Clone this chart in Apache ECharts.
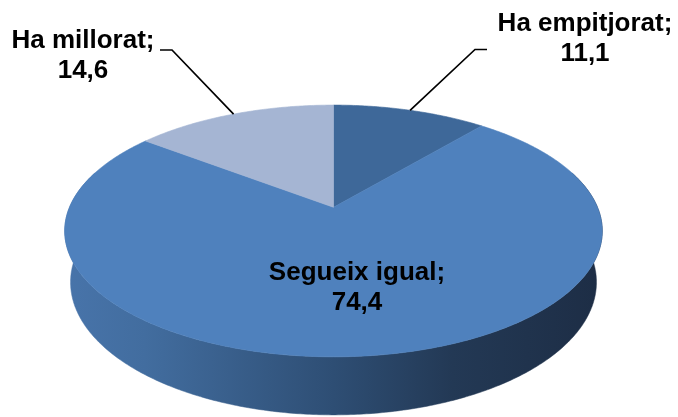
<!DOCTYPE html>
<html>
<head>
<meta charset="utf-8">
<script src="https://cdn.jsdelivr.net/npm/echarts@6/dist/echarts.min.js"></script>
<style>
  html, body { margin: 0; padding: 0; background: #fff; }
  #pie3d { width: 678px; height: 417px; }
</style>
</head>
<body>
<div id="pie3d"></div>
<script>
// data, clockwise from 12 o'clock
const categories = ['Ha empitjorat', 'Segueix igual', 'Ha millorat'];
const values = [11.1, 74.4, 14.6];

const sliceColors = ['#3e6899', '#4f81bd', '#a5b5d3'];

// label placement (centre of text block + leader line elbow/end)
const labelLayout = [
  { x: 585, y: 39, leader: [[475, 49.5], [487, 49.5]] },
  { x: 357, y: 288 },
  { x: 83, y: 56, leader: [[172, 50], [160, 50]] }
];

// fake 3d view of the disc: tilt + a bit of perspective
const view = {
  cx: 333.5, cy: 207.3, r: 264,
  sinT: 0.46, cosT: 0.888, persp: 0.2117,
  depth: 0.22
};

const total = values.reduce((s, v) => s + v, 0);
const starts = [];
values.reduce((acc, v) => { starts.push(acc); return acc + v; }, 0);

// theta: clockwise from the back of the disc, rad. y: height (0 = top face)
function project(theta, rad, y) {
  const X = rad * Math.sin(theta), Z = rad * Math.cos(theta);
  const u = Z * view.sinT + y * view.cosT;
  const w = Z * view.cosT - y * view.sinT;
  const s = 1 / (1 + view.persp * w);
  return [view.cx + view.r * X * s, view.cy - view.r * u * s];
}

function arc(a0, a1, y) {
  const n = Math.max(2, Math.ceil(Math.abs(a1 - a0) / 0.01));
  const pts = [];
  for (let k = 0; k <= n; k++) {
    pts.push(project(a0 + (a1 - a0) * k / n, 1, y));
  }
  return pts;
}

function fmt(v) {
  return v.toFixed(1).replace('.', ',');
}

const sideFill = {
  type: 'linear', global: true,
  x: 64, y: 0, x2: 603, y2: 0,
  colorStops: [
    { offset: 0, color: '#4874aa' },
    { offset: 0.15, color: '#426d9f' },
    { offset: 0.5, color: '#2e4e74' },
    { offset: 0.72, color: '#233955' },
    { offset: 1, color: '#1d2d45' }
  ]
};

// only the front part of the outer wall can be seen
const WALL_FROM = Math.PI / 2 - 0.3;
const WALL_TO = Math.PI * 1.5 + 0.3;

const chart = echarts.init(document.getElementById('pie3d'), null, { renderer: 'canvas' });

const option = {
  animation: false,
  backgroundColor: '#fff',
  series: [{
    type: 'custom',
    coordinateSystem: 'none',
    data: values.map((v, i) => ({ name: categories[i], value: v })),
    renderItem: function (params, api) {
      const i = params.dataIndex;
      const v = api.value(0);
      const a0 = starts[i] / total * Math.PI * 2;
      const a1 = a0 + v / total * Math.PI * 2;
      const children = [];

      const w0 = Math.max(a0, WALL_FROM), w1 = Math.min(a1, WALL_TO);
      if (w1 > w0) {
        const wall = arc(w0, w1, 0).concat(arc(w1, w0, -view.depth));
        children.push({
          type: 'polygon', z2: 1,
          shape: { points: wall },
          style: { fill: sideFill, stroke: sideFill, lineWidth: 0.5 }
        });
      }

      const top = [project(0, 0, 0)].concat(arc(a0, a1, 0));
      children.push({
        type: 'polygon', z2: 5,
        shape: { points: top },
        style: { fill: sliceColors[i], stroke: sliceColors[i], lineWidth: 0.6 }
      });

      const lay = labelLayout[i];
      if (lay.leader) {
        const mid = (a0 + a1) / 2;
        children.push({
          type: 'polyline', z2: 8,
          shape: { points: [project(mid, 1, 0)].concat(lay.leader) },
          style: { stroke: '#000', lineWidth: 1.7, fill: null }
        });
      }
      children.push({
        type: 'text', z2: 10,
        style: {
          text: categories[i] + ';\n' + fmt(v),
          x: lay.x, y: lay.y,
          align: 'center', verticalAlign: 'middle',
          lineHeight: 30,
          font: 'bold 26px "Liberation Sans", Arial, sans-serif',
          fill: '#000'
        }
      });

      return { type: 'group', children: children };
    }
  }]
};

chart.setOption(option);
</script>
</body>
</html>
